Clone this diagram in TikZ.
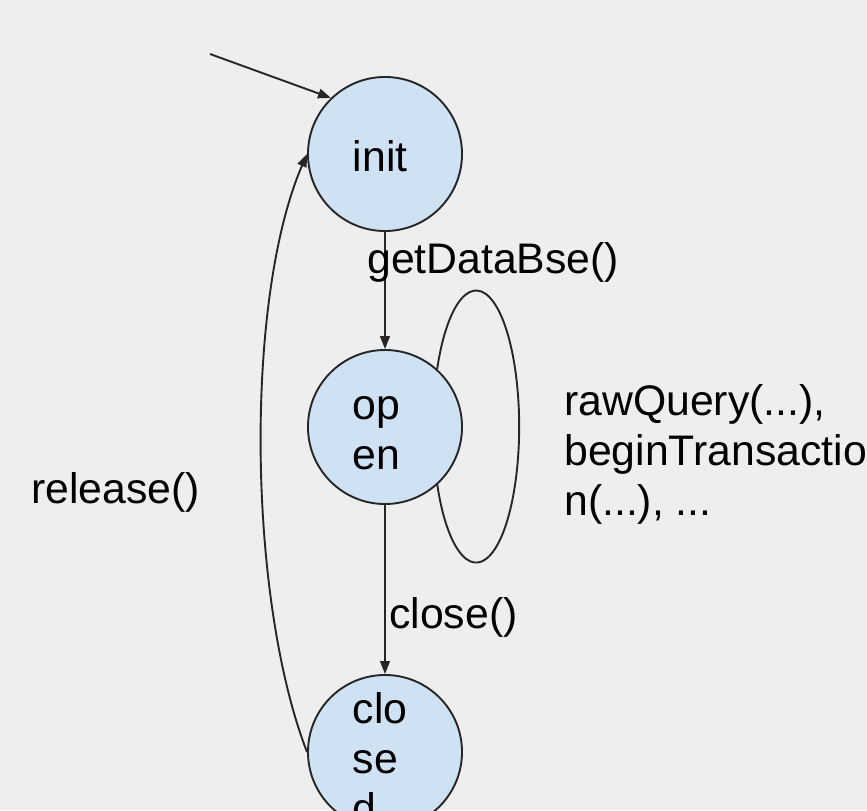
\documentclass[tikz,border=0pt]{standalone}
\usepackage{fontspec}
\setmainfont{Liberation Sans}
\usetikzlibrary{arrows.meta}
\definecolor{paper}{HTML}{EEEEEE}
\definecolor{statefill}{HTML}{CFE2F3}

\begin{document}
\begin{tikzpicture}[x=0.025cm, y=-0.025cm,
  state/.style={circle, draw=black!85, line width=1.35pt, fill=statefill, minimum size=3.85cm, inner sep=0pt},
  txt/.style={font=\fontsize{30.4}{35.6}\selectfont, inner sep=0pt, align=left},
  intxt/.style={txt, text width=1.6cm},
  edge/.style={draw=black!85, line width=1.35pt, -{Triangle[length=0.32cm, width=0.24cm]}}]

\fill [paper] (0,0) rectangle (867,810);
\useasboundingbox (0,0) rectangle (867,810);

% the three states
\node [state] (init) at (385,154) {};
\node [state] (open) at (385,427) {};
\node [state] (closed) at (385,752) {};

\node [intxt] (initname) at (385,156) {init};
\node [intxt] (openname) at (385,433) {op\\en};
\node [intxt] (closedname) at (385,758) {clo\\se\\d};

% transitions
\coordinate (entry) at (210,54);
\draw [edge] (entry) -- (init.134);
\draw [edge] (init) -- (open);
\draw [edge] (open) -- (closed);
\draw [edge] (closed.west) .. controls (248,600) and (244,300) .. (init.west);
\draw [draw=black!85, line width=1.35pt] (open.48)
   arc [start angle=155, end angle=-155, x radius=1.075cm, y radius=3.4cm];

% labels
\node [txt, anchor=west] (getlbl) at (367,262) {getDataBse()};
\node [txt, anchor=west] (closelbl) at (389,617) {close()};
\node [txt, anchor=west] (releaselbl) at (31,492) {release()};
\node [txt, anchor=west] (looplbl) at (564,454) {rawQuery(...),\\beginTransactio\\n(...), ...};

\end{tikzpicture}
\end{document}
